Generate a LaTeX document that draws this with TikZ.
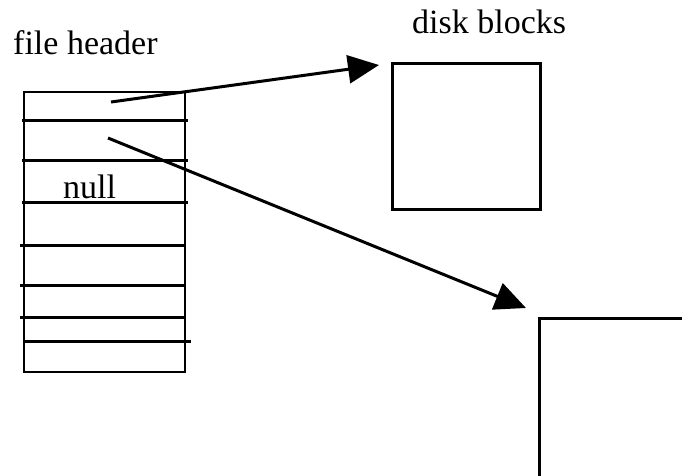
\documentclass[tikz,border=0pt]{standalone}
\usepackage{fontspec}
\setmainfont{Liberation Serif}
\usetikzlibrary{arrows.meta}
\begin{document}
\begin{tikzpicture}[x=1pt,y=-1pt,
  lbl/.style={font=\fontsize{34}{40}\selectfont, inner sep=0pt, anchor=base west},
  frame/.style={draw, line width=2pt, inner sep=0pt, anchor=north west},
  row/.style={line width=3pt},
  ptr/.style={line width=3pt, -{Triangle[length=31pt,width=28pt]}},
  blk/.style={draw, line width=3pt, inner sep=0pt, anchor=north west}]
\useasboundingbox (0,0) rectangle (682,475);
% labels
\node[lbl] (fh) at (13,54) {file header};
\node[lbl] (db) at (412,33) {disk blocks};
% file header
\node[frame, minimum width=161pt, minimum height=280pt] (hdr) at (23,91) {};
\draw[row] (22,120) -- (188,120);
\draw[row] (22,160) -- (188,160);
\draw[row] (22,202) -- (188,202);
\draw[row] (20,245) -- (186,245);
\draw[row] (20,285) -- (186,285);
\draw[row] (20,317) -- (186,317);
\draw[row] (24,341) -- (191,341);
\node[lbl] (nl) at (63,198) {null};
% disk blocks
\node[blk, minimum width=148pt, minimum height=146pt] (b1) at (391,62) {};
\begin{scope}
\clip (0,0) rectangle (682,475);
\node[blk, minimum width=170pt, minimum height=180pt] (b2) at (538,317) {};
\end{scope}
% pointers
\coordinate (p1) at (111,102);
\coordinate (t1) at (379,65);
\coordinate (p2) at (108,138);
\coordinate (t2) at (526,308);
\draw[ptr] (p1) -- (t1);
\draw[ptr] (p2) -- (t2);
\end{tikzpicture}
\end{document}
